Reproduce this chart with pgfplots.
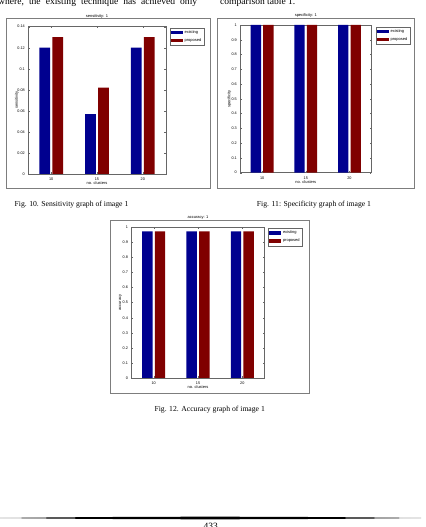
\documentclass[border=0pt]{standalone}
\usepackage{fontspec}
\setmainfont{Liberation Serif}
\newfontfamily\matlabfont{Liberation Sans}
\usepackage{pgfplots}
\pgfplotsset{compat=1.18}

\definecolor{mblue}{RGB}{0,0,143}
\definecolor{mred}{RGB}{128,0,0}
\definecolor{framegray}{RGB}{125,125,125}

\newcommand\tk{\matlabfont\fontsize{3.8}{4.2}\selectfont}
\newcommand\lb{\matlabfont\fontsize{4}{4.6}\selectfont}

\pgfdeclarehorizontalshading{rulefade}{100bp}{color(0bp)=(white); color(30bp)=(black); color(70bp)=(black); color(100bp)=(white)}

\pgfplotsset{
  matbar/.style={
    scale only axis, anchor=south west,
    xmin=7.5, xmax=22.5, ymin=0,
    xtick={10,15,20},
    tick align=inside, major tick length=1.5bp,
    axis line style={black!60, line width=0.4bp},
    every tick/.append style={black!60, line width=0.3bp},
    tick label style={font=\tk},
    /pgf/number format/assume math mode=true,
    /pgf/number format/fixed, /pgf/number format/precision=2,
    scaled y ticks=false,
    xticklabel style={yshift=-0.8bp},
    title style={font=\lb, at={(axis description cs:0.5,1.027)}, anchor=center, yshift=0pt},
    xlabel style={font=\lb, at={(axis description cs:0.5,-0.061)}, anchor=center},
    ylabel style={font=\lb, at={(axis description cs:-0.083,0.5)}, anchor=center},
    bar width=1.18,
    legend style={draw=black!60, line width=0.3bp, fill=white, font=\lb,
      inner sep=0.5bp, anchor=north west, cells={anchor=west}, row sep=-0.4bp},
    legend image code/.code={\fill[#1] (0bp,-1.8bp) rectangle (12bp,1.8bp);},
  },
  existing/.style={ybar, fill=mblue, draw=none, bar shift=-0.714},
  proposed/.style={ybar, fill=mred, draw=none, bar shift=0.714},
}

\begin{document}
\begin{tikzpicture}
\useasboundingbox (0bp,0bp) rectangle (426bp,527bp);
\clip (0bp,0bp) rectangle (426bp,527bp);

\begin{scope}[x=1bp,y=1bp]
\fill[white] (0,0) rectangle (426,527);

% running text above the figures
\node[anchor=base west, inner sep=0, font=\fontsize{9.6}{11}\selectfont] at (-2,522.3)
  {\hbox to 199bp{where,\hfill the\hfill existing\hfill technique\hfill has\hfill achieved\hfill only}};
\node[anchor=base west, inner sep=0, font=\fontsize{9.6}{11}\selectfont] at (220,522.5) {comparison table 1.};

% figure frames
\draw[framegray, line width=0.8bp] (6.7,339) rectangle (210,508.7);
\draw[framegray, line width=0.8bp] (217,339) rectangle (414,509);
\draw[framegray, line width=0.8bp] (110.5,133.5) rectangle (309,307);

% captions
\node[anchor=base, inner sep=0, font=\fontsize{7.7}{9}\selectfont] at (71.5,320.5) {Fig. 10. Sensitivity graph of image 1};
\node[anchor=base, inner sep=0, font=\fontsize{7.7}{9}\selectfont] at (314,320.5) {Fig. 11: Specificity graph of image 1};
\node[anchor=base, inner sep=0, font=\fontsize{7.7}{9}\selectfont] at (209.7,115.5) {Fig. 12. Accuracy graph of image 1};

% page footer
\shade[shading=rulefade] (0,9) .. controls (140,10.7) and (280,10.7) .. (421,9)
  .. controls (280,7.3) and (140,7.3) .. (0,9) -- cycle;
\node[anchor=base, inner sep=0, font=\fontsize{9.6}{11}\selectfont] at (210.7,-2) {433};
\end{scope}

% Fig. 10: sensitivity
\begin{axis}[matbar, at={(28.3bp,353bp)}, width=137.4bp, height=147.3bp,
  ymax=0.14, ytick={0,0.02,0.04,0.06,0.08,0.1,0.12,0.14},
  title={sensitivity: 1}, xlabel={no. clusters}, ylabel={sensitivity},
  legend style={at={(axis description cs:1.031,0.993)}}]
\addplot[existing] coordinates {(10,0.12) (15,0.057) (20,0.12)};
\addplot[proposed] coordinates {(10,0.13) (15,0.082) (20,0.13)};
\legend{existing,proposed}
\end{axis}

% Fig. 11: specificity
\begin{axis}[matbar, at={(240.3bp,354.3bp)}, width=131bp, height=147.7bp,
  ymax=1, ytick={0,0.1,0.2,0.3,0.4,0.5,0.6,0.7,0.8,0.9,1},
  title={specificity: 1}, xlabel={no. clusters}, ylabel={specificity},
  legend style={at={(axis description cs:1.036,0.988)}}]
\addplot[existing] coordinates {(10,1) (15,1) (20,1)};
\addplot[proposed] coordinates {(10,1) (15,1) (20,1)};
\legend{existing,proposed}
\end{axis}

% Fig. 12: accuracy
\begin{axis}[matbar, at={(131.5bp,149bp)}, width=133bp, height=150.7bp,
  ymax=1, ytick={0,0.1,0.2,0.3,0.4,0.5,0.6,0.7,0.8,0.9,1},
  title={accuracy: 1}, xlabel={no. clusters}, ylabel={accuracy},
  legend style={at={(axis description cs:1.029,0.993)}}]
\addplot[existing] coordinates {(10,0.973) (15,0.973) (20,0.973)};
\addplot[proposed] coordinates {(10,0.973) (15,0.973) (20,0.973)};
\legend{existing,proposed}
\end{axis}
\end{tikzpicture}
\end{document}
